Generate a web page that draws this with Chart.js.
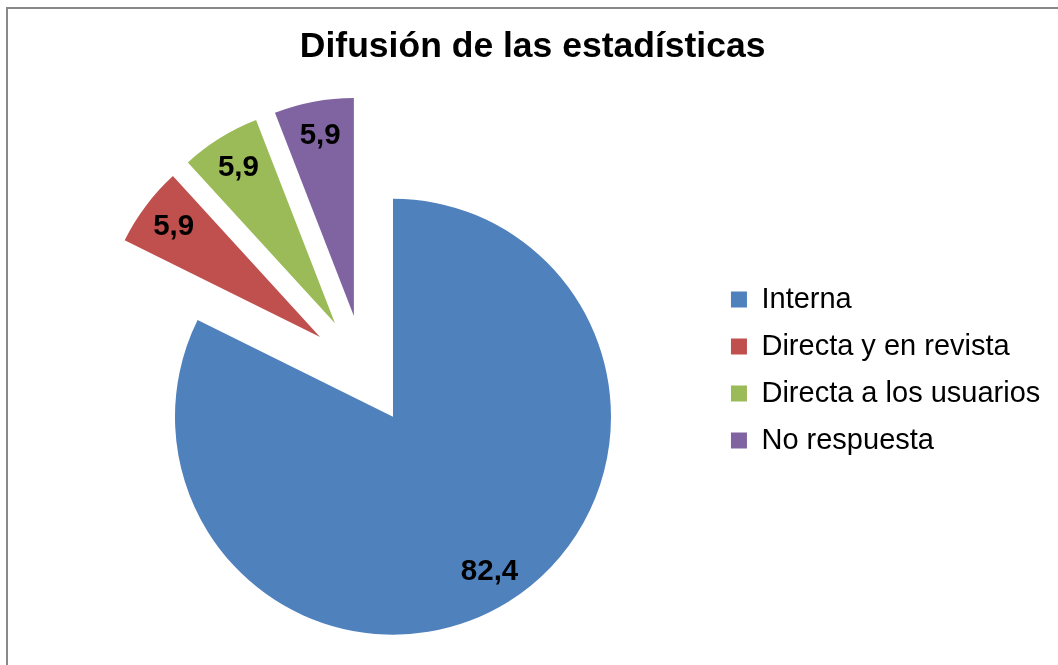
<!DOCTYPE html>
<html>
<head>
<meta charset="utf-8">
<script src="https://cdn.jsdelivr.net/npm/chart.js@4.4.1/dist/chart.umd.min.js"></script>
<style>
html, body { margin: 0; padding: 0; background: #fff; overflow: hidden; }
#frame { position: absolute; left: 6px; top: 7px; width: 1200px; height: 800px; border: 2px solid #898989; }
#c { position: absolute; left: 0; top: 0; }
</style>
</head>
<body>
<div id="frame"></div>
<canvas id="c" width="1058" height="665"></canvas>
<script>
var labels = ["Interna", "Directa y en revista", "Directa a los usuarios", "No respuesta"];
var values = [82.4, 5.9, 5.9, 5.9];
var colors = ["#4F81BD", "#C0504D", "#9BBB59", "#8064A2"];

var EXPLODE = 55;      // every slice pulled out from the centre
var LABEL_POS = 0.84;  // label distance as a share of the radius

Chart.defaults.font.family = "'Liberation Sans', Arial, sans-serif";
Chart.defaults.color = "#000";

// draw the arcs shifted along their mid angle (Excel-style explosion)
var explodePlugin = {
    id: "explode",
    beforeDatasetDraw: function (chart, args) {
        var ctx = chart.ctx;
        args.meta.data.forEach(function (arc) {
            var mid = (arc.startAngle + arc.endAngle) / 2;
            ctx.save();
            ctx.translate(Math.cos(mid) * EXPLODE, Math.sin(mid) * EXPLODE);
            arc.draw(ctx);
            ctx.restore();
        });
        return false;
    },
    afterDatasetsDraw: function (chart) {
        var ctx = chart.ctx;
        var meta = chart.getDatasetMeta(0);
        ctx.save();
        ctx.font = "bold 29.5px 'Liberation Sans', Arial, sans-serif";
        ctx.fillStyle = "#000";
        ctx.textAlign = "center";
        ctx.textBaseline = "middle";
        meta.data.forEach(function (arc, i) {
            var mid = (arc.startAngle + arc.endAngle) / 2;
            var d = EXPLODE + arc.outerRadius * LABEL_POS;
            ctx.fillText(values[i].toFixed(1).replace(".", ","),
                arc.x + Math.cos(mid) * d, arc.y + Math.sin(mid) * d);
        });
        ctx.restore();
    }
};

new Chart(document.getElementById("c"), {
    type: "pie",
    data: {
        labels: labels,
        datasets: [{
            data: values,
            backgroundColor: colors,
            borderWidth: 0
        }]
    },
    options: {
        responsive: false,
        animation: false,
        radius: 218,
        layout: {
            padding: { left: 15, right: 7.7, top: 0, bottom: 0 }
        },
        plugins: {
            title: {
                display: true,
                text: "Difusión de las estadísticas",
                font: { size: 35.5, weight: "bold" },
                color: "#000",
                padding: { top: 26.2, bottom: 6.2 }
            },
            legend: {
                position: "right",
                fullSize: false,
                labels: {
                    boxWidth: 16,
                    boxHeight: 16,
                    padding: 18,
                    font: { size: 29 },
                    color: "#000"
                }
            },
            tooltip: { enabled: false }
        }
    },
    plugins: [explodePlugin]
});
</script>
</body>
</html>
